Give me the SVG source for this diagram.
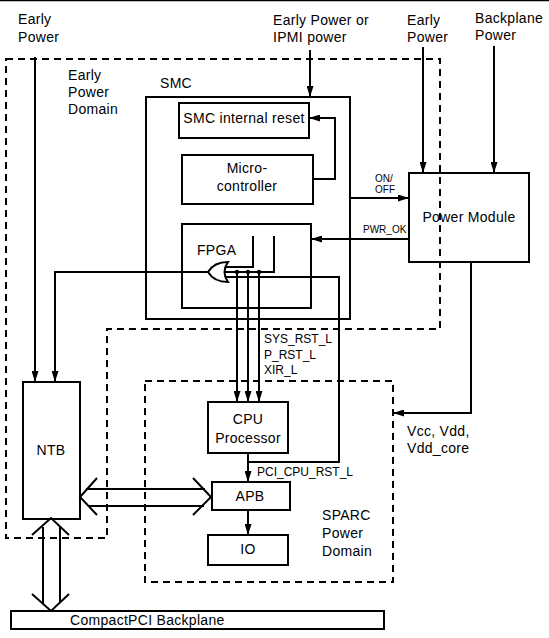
<svg xmlns="http://www.w3.org/2000/svg" width="549" height="638" viewBox="0 0 549 638">
<style>
  .box { fill: none; stroke: #000; stroke-width: 2; }
  .dash { fill: none; stroke: #000; stroke-width: 2; stroke-dasharray: 7 5; }
  .ln { fill: none; stroke: #000; stroke-width: 2; }
  .arr { fill: none; stroke: #000; stroke-width: 2; marker-end: url(#ah); }
  text { font-family: "Liberation Sans", Arial, sans-serif; font-size: 14px; fill: #000; letter-spacing: 0.3px; }
  .c { text-anchor: middle; }
  .s { font-size: 10px; letter-spacing: 0; }
  .m { font-size: 12px; letter-spacing: 0; }
</style>
<defs>
  <marker id="ah" markerUnits="userSpaceOnUse" markerWidth="11" markerHeight="7" refX="11" refY="3.5" orient="auto">
    <path d="M0,0 L11,3.5 L0,7 z" fill="#000"/>
  </marker>
</defs>
<rect x="0" y="0" width="549" height="638" fill="#fff"/>
<line x1="0" y1="0.5" x2="549" y2="0.5" stroke="#000" stroke-width="1.5"/>

<g id="early-power-domain">
  <path class="dash" d="M6,59 H440 V329 H107 V538 H6 Z"/>
  <text x="68" y="80">Early</text>
  <text x="68" y="97">Power</text>
  <text x="68" y="114">Domain</text>
</g>
<g id="sparc-power-domain">
  <rect class="dash" x="145" y="381" width="248" height="201"/>
  <text x="322" y="520">SPARC</text>
  <text x="322" y="538">Power</text>
  <text x="322" y="556">Domain</text>
</g>

<g id="labels-top">
  <text x="18" y="24">Early</text>
  <text x="18" y="42">Power</text>
  <text x="273" y="25">Early Power or</text>
  <text x="273" y="42">IPMI power</text>
  <text x="407" y="25">Early</text>
  <text x="407" y="42">Power</text>
  <text x="475" y="23">Backplane</text>
  <text x="475" y="40">Power</text>
</g>

<g id="smc">
  <rect class="box" x="146" y="97" width="204" height="222"/>
  <text x="160" y="88">SMC</text>
</g>
<g id="smc-internal-reset">
  <rect class="box" x="179" y="103" width="130" height="35"/>
  <text class="c" x="244" y="123">SMC internal reset</text>
</g>
<g id="microcontroller">
  <rect class="box" x="182" y="155" width="131" height="49"/>
  <text class="c" x="247" y="173">Micro-</text>
  <text class="c" x="247" y="191">controller</text>
</g>
<g id="fpga">
  <rect class="box" x="182" y="224" width="129" height="84"/>
  <text x="197" y="255">FPGA</text>
  <path class="ln" d="M228,262 Q214,262 208,272 Q214,282 228,282 Q221,272 228,262 Z"/>
  <path class="ln" d="M253,236 V267 H225"/>
  <path class="ln" d="M274,236 V272 H224"/>
  <circle cx="237" cy="272" r="2.2" fill="#000"/>
  <circle cx="248" cy="272" r="2.2" fill="#000"/>
  <circle cx="259" cy="272" r="2.2" fill="#000"/>
</g>
<g id="power-module">
  <rect class="box" x="409" y="173" width="120" height="89"/>
  <text class="c" x="469" y="222">Power Module</text>
</g>
<g id="ntb">
  <rect class="box" x="23" y="382" width="57" height="137"/>
  <text class="c" x="51" y="455">NTB</text>
</g>
<g id="cpu">
  <rect class="box" x="208" y="402" width="80" height="51"/>
  <text class="c" x="248" y="424">CPU</text>
  <text class="c" x="248" y="443">Processor</text>
</g>
<g id="apb">
  <rect class="box" x="212" y="482" width="78" height="28"/>
  <text class="c" x="250" y="501">APB</text>
</g>
<g id="io">
  <rect class="box" x="208" y="535" width="80" height="30"/>
  <text class="c" x="248" y="554">IO</text>
</g>
<g id="backplane">
  <rect class="box" x="11" y="611" width="373" height="18"/>
  <text x="70" y="625">CompactPCI Backplane</text>
</g>

<g id="connectors">
  <path class="arr" d="M35,57 V382"/>
  <path class="arr" d="M310,50 V97"/>
  <path class="arr" d="M423,47 V173"/>
  <path class="arr" d="M494,46 V173"/>
  <path class="arr" d="M313,179 H335 V118 H309"/>
  <path class="arr" d="M350,198 H409"/>
  <text class="s" x="375" y="182">ON/</text>
  <text class="s" x="375" y="193">OFF</text>
  <path class="arr" d="M409,239 H311"/>
  <text class="s" x="363" y="233">PWR_OK</text>
  <path class="arr" d="M471,262 V413 H393"/>
  <text x="407" y="436">Vcc, Vdd,</text>
  <text x="407" y="453">Vdd_core</text>
  <path class="arr" d="M208,272 H55 V382"/>
  <path class="arr" d="M237,272 V402"/>
  <path class="arr" d="M248,272 V402"/>
  <path class="arr" d="M259,272 V402"/>
  <text class="m" x="264" y="343">SYS_RST_L</text>
  <text class="m" x="264" y="359">P_RST_L</text>
  <text class="m" x="264" y="374">XIR_L</text>
  <path class="ln" d="M225,277 H339 V462 H248"/>
  <path class="arr" d="M248,453 V482"/>
  <text class="m" x="257" y="476">PCI_CPU_RST_L</text>
  <path class="arr" d="M248,510 V535"/>
  <path class="ln" d="M86,489 H205 M88,506 H204"/>
  <path class="ln" d="M97,478 L80,497 L97,515 M193,478 L211,497 L193,515"/>
  <path class="ln" d="M43,527 V603 M60,527 V603"/>
  <path class="ln" d="M32,535 L51,518 L69,535 M32,594 L51,611 L69,594"/>
</g>
</svg>
